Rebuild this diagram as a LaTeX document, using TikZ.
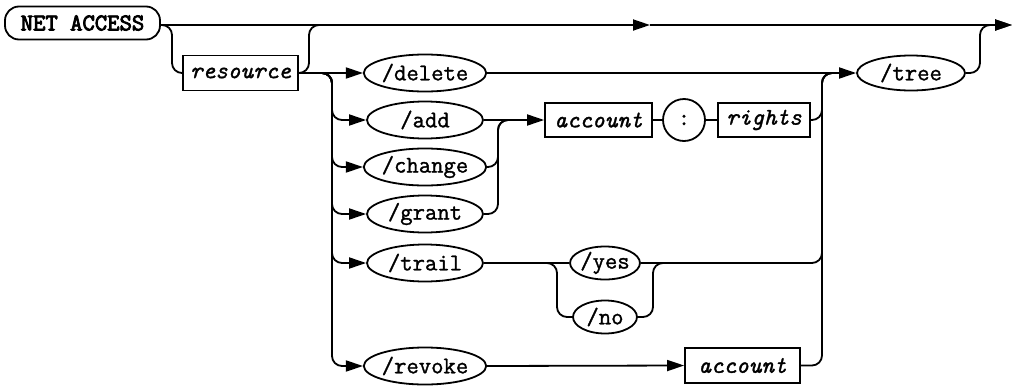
\documentclass[tikz,border=0pt]{standalone}
\usepackage{fontspec}
\setmonofont{Latin Modern Mono}[FakeBold=1.3,BoldFont=Latin Modern Mono,BoldFeatures={FakeBold=3.5}]
\usetikzlibrary{shapes.geometric,arrows.meta}
\begin{document}
\begin{tikzpicture}[x=1pt,y=-1pt,line width=1.8pt,
  every node/.style={font=\fontsize{24}{27}\selectfont\ttfamily,inner sep=0pt},
  opt/.style={draw,ellipse,minimum height=37pt},
  box/.style={draw,rectangle,minimum height=35pt,font=\fontsize{24}{27}\selectfont\ttfamily\itshape},
  conn/.style={rounded corners=10pt},
  arr/.style={-{Triangle[length=17pt,width=11pt]}}]
\useasboundingbox (0,0) rectangle (1015,386);
% nodes
\node[draw,rounded corners=14pt,minimum width=155pt,minimum height=33pt,
      font=\fontsize{24}{27}\selectfont\ttfamily\bfseries] (na) at (82.5,23) {NET ACCESS};
\node[box,minimum width=115pt] (res) at (240.5,73) {resource};
\node[opt,minimum width=116pt] (del) at (425,73) {/delete};
\node[opt,minimum width=116pt] (add) at (425,120) {/add};
\node[opt,minimum width=116pt] (chg) at (425,167) {/change};
\node[opt,minimum width=116pt] (grt) at (425,214) {/grant};
\node[opt,minimum width=116pt] (trl) at (425,263) {/trail};
\node[opt,minimum width=116pt] (rev) at (425,366) {/revoke};
\node[opt,minimum width=108pt,minimum height=35pt] (tree) at (911,73) {/tree};
\node[box,minimum width=107pt,minimum height=34pt] (acc) at (598.5,120) {account};
\node[draw,circle,minimum size=42pt] (col) at (684,120) {:};
\node[box,minimum width=92pt,minimum height=34pt] (rig) at (764,120) {rights};
\node[opt,minimum width=64pt,minimum height=33pt] (yes) at (605,263) {/yes};
\node[opt,minimum width=64pt,minimum height=33pt] (no) at (605,317) {/no};
\node[box,minimum width=115pt] (acc2) at (742.5,365.5) {account};
% coordinates
\coordinate (top) at (0,25);
\coordinate (tmid) at (650,25);
\coordinate (tend) at (1012,25);
\coordinate (rb) at (172,73);
\coordinate (rs) at (309,25);
\coordinate (rj) at (330,25);
\coordinate (dsplit) at (318,73);
\coordinate (dx) at (332,0);
\coordinate (cx) at (498,0);
\coordinate (cj) at (515,120);
\coordinate (kx) at (822,0);
\coordinate (kj) at (840,73);
\coordinate (ts) at (543,263);
\coordinate (tx) at (557,0);
\coordinate (nx) at (653,0);
\coordinate (nj) at (668,263);
\coordinate (ex) at (980,0);
% main line
\draw[arr] (na.east |- top) -- (tmid);
\draw[arr] (tmid) -- (tend);
% resource
\draw[conn] (na.east |- top) -| (rb) -- (res.west);
\draw[conn] (res.east) -| (rs) -- (rj);
\draw[arr] (res.east) -- (del.west);
\foreach \n in {add,chg,grt,trl,rev}
  \draw[conn,arr] (dsplit) -| (dx |- \n.west) -- (\n.west);
% delete / tree
\draw[arr] (del.east) -- (tree.west);
\draw[conn,arr] (tree.east) -| (ex |- tend) -- (tend);
% add / change / grant
\draw[arr] (add.east) -- (acc.west);
\draw[conn] (chg.east) -| (cx |- cj) -- (cj);
\draw[conn] (grt.east) -| (cx |- cj) -- (cj);
\draw (acc) -- (col) -- (rig);
\draw[conn] (rig.east) -| (kx |- kj) -- (kj);
% trail
\draw (trl.east) -- (yes.west);
\draw[conn] (ts) -| (tx |- no.west) -- (no.west);
\draw[conn] (no.east) -| (nx |- nj) -- (nj);
\draw[conn] (yes.east) -| (kx |- kj) -- (kj);
% revoke
\draw[arr] (rev.east) -- (acc2.west);
\draw[conn] (acc2.east) -| (kx |- kj) -- (kj);
\end{tikzpicture}
\end{document}
